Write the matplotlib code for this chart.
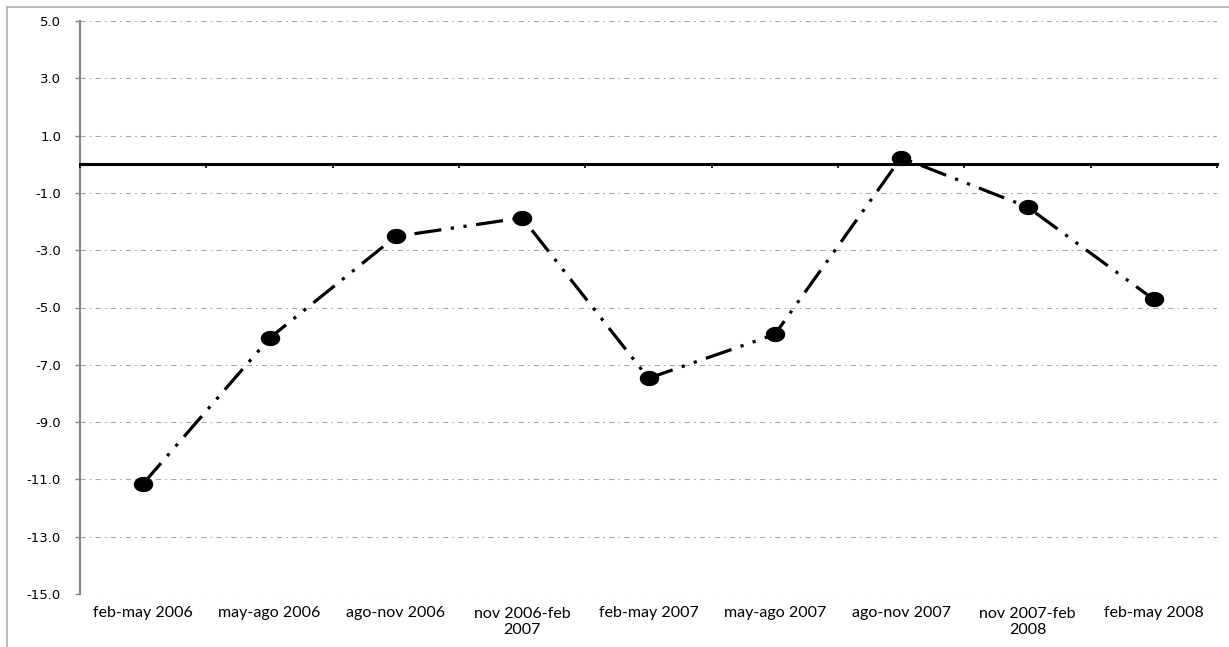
import matplotlib as mpl
mpl.use("Agg")
import matplotlib.pyplot as plt
import numpy as np
from matplotlib.path import Path
from matplotlib.lines import Line2D

mpl.rcParams["axes.unicode_minus"] = False

periodos = ["feb-may 2006", "may-ago 2006", "ago-nov 2006", "nov 2006-feb\n2007",
            "feb-may 2007", "may-ago 2007", "ago-nov 2007", "nov 2007-feb\n2008",
            "feb-may 2008"]
valores = [-11.15, -6.07, -2.52, -1.87, -7.47, -5.94, 0.23, -1.49, -4.72]
y_ticks = [-15, -13, -11, -9, -7, -5, -3, -1, 1, 3, 5]

W, H = 1229, 647
fig = plt.figure(figsize=(W / 100, H / 100), dpi=100)
ax = fig.add_axes([80 / W, (H - 594) / H, (1217 - 80) / W, (594 - 21) / H])

x = np.arange(len(periodos))

# lineas de rejilla
ax.set_ylim(-15, 5)
ax.set_yticks(y_ticks)
ax.set_yticklabels(["%.1f" % v for v in y_ticks], fontsize=9.5, family="DejaVu Sans")
ax.yaxis.grid(True, color="#a6a6a6", lw=0.75, linestyle=(0, (5, 4, 1.5, 4)))
ax.set_axisbelow(True)
ax.tick_params(axis="y", length=3.6, width=1, color="#868686", pad=10, labelcolor="black")

ax.set_xlim(-0.5, len(periodos) - 0.5)
ax.set_xticks(x)
ax.set_xticklabels(periodos, fontsize=11.5, family="Lato", linespacing=1.2)
ax.tick_params(axis="x", length=0, pad=9)

for s in ["top", "right", "bottom"]:
    ax.spines[s].set_visible(False)
ax.spines["left"].set_color("#868686")
ax.spines["left"].set_linewidth(1.5)

# eje horizontal en cero
ax2 = ax.twiny()
ax2.set_xlim(ax.get_xlim())
ax2.xaxis.set_ticks_position("bottom")
ax2.spines["bottom"].set_position(("data", 0))
ax2.spines["bottom"].set_linewidth(2.2)
ax2.spines["bottom"].set_color("black")
for s in ["top", "right", "left"]:
    ax2.spines[s].set_visible(False)
ax2.set_xticks(np.arange(len(periodos) + 1) - 0.5)
ax2.set_xticklabels([])
ax2.tick_params(axis="x", length=3, width=1.2, color="black", direction="out")

# marcador eliptico
t = np.linspace(0, 2 * np.pi, 40)
elipse = Path(np.column_stack([1.3 * np.cos(t), np.sin(t)]), closed=True)

ax.plot(x, valores, color="black", lw=2.3,
        linestyle=(0, (8.5, 3.0, 1.0, 3.0, 1.0, 3.0)),
        marker=elipse, markersize=13, markerfacecolor="black",
        markeredgecolor="black", zorder=5, clip_on=False)

# borde del grafico
fig.add_artist(Line2D([7 / W, 7 / W], [0, 1 - 7 / H], color="#b0b0b0", lw=1.2,
                      transform=fig.transFigure))
fig.add_artist(Line2D([7 / W, 1], [1 - 7 / H, 1 - 7 / H], color="#b0b0b0", lw=1.2,
                      transform=fig.transFigure))

fig.savefig("out.png", dpi=100)
